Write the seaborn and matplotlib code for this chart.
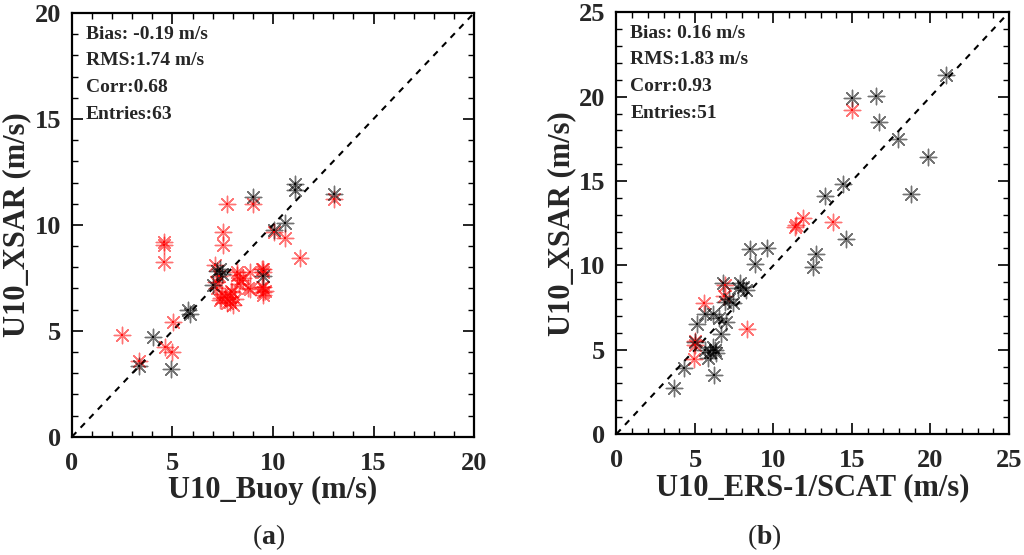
import numpy as np
import pandas as pd
import matplotlib
matplotlib.use("Agg")
import matplotlib.pyplot as plt
from matplotlib.ticker import MultipleLocator
import seaborn as sns

# ---------------- data ----------------
# Panel (a): U10_Buoy vs U10_XSAR
a_black_x = [9.0, 11.1, 11.1, 13.05, 10.6, 10.07, 7.36, 7.2, 7.03, 9.52, 5.79, 5.87, 4.05, 3.35, 4.93, 7.45]
a_black_y = [11.3, 11.95, 11.64, 11.48, 10.11, 9.75, 7.9, 7.8, 7.15, 7.6, 5.98, 5.79, 4.72, 3.33, 3.18, 7.7]
a_red_x = [7.7, 9.0, 13.05, 10.07, 10.6, 11.34, 7.5, 7.5, 4.59, 4.59, 4.59, 7.11, 7.2, 7.45,
           7.86, 7.95, 8.2, 8.36, 8.86, 8.86, 9.52, 9.52, 9.52, 7.36, 8.19, 9.52, 7.86, 2.47,
           5.04, 4.63, 4.96, 3.35, 9.52, 7.6, 8.0, 7.3, 8.77, 9.45, 8.1, 7.9, 7.15, 9.6, 8.5,
           7.7, 7.4, 9.45, 8.3]
a_red_y = [11.0, 11.0, 11.2, 9.67, 9.36, 8.46, 9.67, 9.04, 9.2, 9.07, 8.26, 8.1, 7.0, 6.76,
           6.37, 6.84, 7.63, 7.39, 7.78, 6.95, 7.94, 7.08, 6.84, 6.45, 7.78, 6.68, 6.6, 4.8,
           5.42, 4.25, 4.01, 3.57, 7.78, 6.6, 6.2, 7.6, 7.0, 7.9, 6.5, 6.9, 7.3, 6.9, 7.5,
           6.3, 6.55, 7.05, 7.2]

# Panel (b): U10_ERS-1/SCAT vs U10_XSAR
b_black_x = [20.99, 15.02, 16.54, 16.71, 17.92, 19.82, 14.42, 18.77, 13.27, 14.59, 8.49, 9.61,
             12.73, 12.51, 8.85, 6.79, 7.85, 8.06, 8.28, 7.74, 6.9, 7.43, 5.63, 6.15, 6.55, 6.95,
             6.69, 5.1, 4.99, 6.26, 5.94, 6.37, 5.63, 6.15, 5.84, 4.3, 6.2, 3.67, 7.2]
b_black_y = [21.28, 19.9, 20.04, 18.51, 17.47, 16.44, 14.82, 14.23, 14.11, 11.54, 10.95, 11.01,
             10.65, 9.88, 10.06, 8.93, 8.93, 8.73, 8.54, 8.64, 7.84, 7.75, 7.1, 7.13, 6.9, 6.66,
             5.9, 6.5, 5.47, 4.98, 4.88, 4.78, 4.98, 5.18, 4.49, 3.9, 3.5, 2.71, 8.0]
b_red_x = [15.02, 11.88, 11.35, 11.45, 13.78, 6.9, 6.85, 5.55, 8.32, 4.99, 4.95, 5.0]
b_red_y = [19.2, 12.82, 12.29, 12.39, 12.55, 8.83, 8.2, 7.75, 6.2, 5.5, 4.43, 5.3]

panels = [
    dict(bx=a_black_x, by=a_black_y, rx=a_red_x, ry=a_red_y, lim=20,
         xlabel="U10_Buoy (m/s)", ylabel="U10_XSAR (m/s)", tag="a",
         stats=["Bias: -0.19 m/s", "RMS:1.74 m/s", "Corr:0.68", "Entries:63"]),
    dict(bx=b_black_x, by=b_black_y, rx=b_red_x, ry=b_red_y, lim=25,
         xlabel="U10_ERS-1/SCAT (m/s)", ylabel="U10_XSAR (m/s)", tag="b",
         stats=["Bias: 0.16 m/s", "RMS:1.83 m/s", "Corr:0.93", "Entries:51"]),
]

# ---------------- style ----------------
sns.set_theme(style="ticks")
plt.rcParams["font.family"] = ["Liberation Serif", "DejaVu Serif"]
plt.rcParams["font.weight"] = "bold"
plt.rcParams["mathtext.fontset"] = "custom"
plt.rcParams["mathtext.rm"] = "Liberation Serif"
plt.rcParams["mathtext.bf"] = "Liberation Serif:bold"

fig = plt.figure(figsize=(10.24, 5.55), dpi=100)
positions = [[0.0703, 0.2131, 0.3926, 0.7634], [0.602, 0.218, 0.3833, 0.7598]]
label_x = [0.262, 0.746]

star = (8, 2, 0)
for p, pos, lx in zip(panels, positions, label_x):
    ax = fig.add_axes(pos)
    lim = p["lim"]
    ax.plot([0, lim], [0, lim], color="black", linestyle=(0, (3, 3)), linewidth=1.5, zorder=1)

    df_b = pd.DataFrame({"x": p["bx"], "y": p["by"]})
    df_r = pd.DataFrame({"x": p["rx"], "y": p["ry"]})
    for df, col in [(df_r, "red"), (df_b, "black")]:
        sns.scatterplot(data=df, x="x", y="y", ax=ax, marker=star, s=140,
                        color=col, linewidth=1.0, alpha=0.55, zorder=3, legend=False)
        sns.scatterplot(data=df, x="x", y="y", ax=ax, marker="s", s=4,
                        color=col, linewidth=0, alpha=0.9, zorder=4, legend=False)

    ax.set_xlim(0, lim)
    ax.set_ylim(0, lim)
    ax.xaxis.set_major_locator(MultipleLocator(5))
    ax.yaxis.set_major_locator(MultipleLocator(5))
    ax.xaxis.set_minor_locator(MultipleLocator(1))
    ax.yaxis.set_minor_locator(MultipleLocator(1))
    ax.tick_params(which="both", direction="in", top=True, right=True, color="black")
    ax.tick_params(which="major", length=8, width=1.2)
    ax.tick_params(which="minor", length=4, width=1.0)
    ax.tick_params(axis="x", which="major", pad=11, labelsize=19)
    ax.tick_params(axis="y", which="major", pad=8, labelsize=19)
    for lab in ax.get_xticklabels() + ax.get_yticklabels():
        lab.set_fontweight("bold")
    for sp in ax.spines.values():
        sp.set_linewidth(1.6)
        sp.set_color("black")
    ax.set_xlabel(p["xlabel"], fontsize=22, fontweight="bold", labelpad=1)
    ax.set_ylabel(p["ylabel"], fontsize=22, fontweight="bold", labelpad=2)

    for i, s in enumerate(p["stats"]):
        ax.text(0.035, 0.95 - i * 0.063, s, transform=ax.transAxes, fontsize=14,
                fontweight="bold", va="center", ha="left")

    fig.text(lx, 0.032, r"($\mathbf{%s}$)" % p["tag"], fontsize=20, ha="center",
             va="center", fontweight="normal")

fig.savefig("out.png", dpi=100)
